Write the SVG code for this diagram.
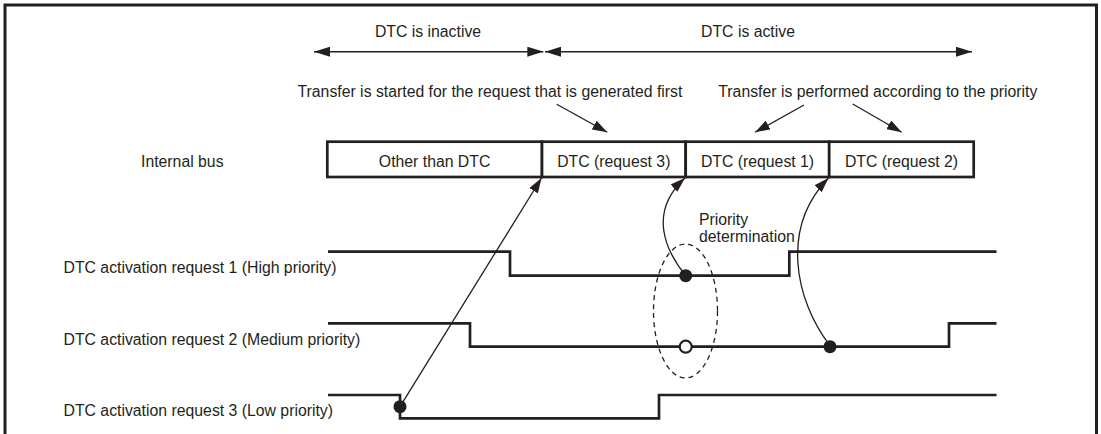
<svg xmlns="http://www.w3.org/2000/svg" width="1101" height="434" viewBox="0 0 1101 434">
<defs>
<style>
text{font-family:"Liberation Sans",Arial,sans-serif;font-size:15.8px;fill:#231f20}
.mid{text-anchor:middle}
.box{fill:#fff;stroke:#231f20;stroke-width:2.7}
.sig{fill:none;stroke:#231f20;stroke-width:2.7}
.thin{fill:none;stroke:#231f20;stroke-width:1.3}
.span{fill:none;stroke:#231f20;stroke-width:1.5}
</style>
<marker id="ah" viewBox="0 0 16 10" refX="16" refY="5" markerWidth="16" markerHeight="10" markerUnits="userSpaceOnUse" orient="auto-start-reverse">
<path d="M0,0 L16,5 L0,10 z" fill="#231f20"/>
</marker>
<marker id="ah2" viewBox="0 0 15 10" refX="15" refY="5" markerWidth="15" markerHeight="10" markerUnits="userSpaceOnUse" orient="auto">
<path d="M0,0 L15,5 L0,10 z" fill="#231f20"/>
</marker>
</defs>
<rect x="0" y="0" width="1101" height="434" fill="#fff"/>
<path d="M5,440 V5 H1096.5 V440" fill="none" stroke="#231f20" stroke-width="3"/>

<g id="periods">
<text class="mid" x="428" y="37.3">DTC is inactive</text>
<text class="mid" x="748" y="37.3">DTC is active</text>
<text x="297.5" y="97.3">Transfer is started for the request that is generated first</text>
<text x="718.3" y="97.3">Transfer is performed according to the priority</text>
</g>

<g id="bus">
<text x="141" y="166.5">Internal bus</text>
<rect class="box" x="327.3" y="141.7" width="214.7" height="35.3"/>
<text class="mid" x="434.6" y="166.5">Other than DTC</text>
<rect class="box" x="542" y="141.7" width="143.7" height="35.3"/>
<text class="mid" x="613.8" y="166.5">DTC (request 3)</text>
<rect class="box" x="685.7" y="141.7" width="143.5" height="35.3"/>
<text class="mid" x="757.5" y="166.5">DTC (request 1)</text>
<rect class="box" x="829.2" y="141.7" width="144.5" height="35.3"/>
<text class="mid" x="901.5" y="166.5">DTC (request 2)</text>
</g>

<g id="req1">
<text x="63.5" y="273">DTC activation request 1 (High priority)</text>
<path class="sig" d="M328,251.7 H510 V275.7 H789.3 V251.7 H996.5"/>
</g>
<g id="req2">
<text x="63.5" y="344.5">DTC activation request 2 (Medium priority)</text>
<path class="sig" d="M328,323.3 H470 V346.7 H949 V323.3 H996.5"/>
</g>
<g id="req3">
<text x="63.5" y="415.5">DTC activation request 3 (Low priority)</text>
<path class="sig" d="M328,395 H400 V418.3 H659 V395 H996.5"/>
</g>

<g id="priority">
<ellipse cx="685.5" cy="311" rx="32" ry="67" fill="none" stroke="#231f20" stroke-width="1.3" stroke-dasharray="5,4"/>
<text x="699" y="225">Priority</text>
<text x="699" y="242">determination</text>
</g>

<g id="connectors">
<line class="span" x1="314" y1="51.7" x2="543.3" y2="51.7" marker-start="url(#ah)" marker-end="url(#ah)"/>
<line class="span" x1="545" y1="51.7" x2="972" y2="51.7" marker-start="url(#ah)" marker-end="url(#ah)"/>
<line class="thin" x1="556.7" y1="104.3" x2="607.3" y2="132.3" marker-end="url(#ah2)"/>
<line class="thin" x1="804" y1="105" x2="755" y2="132.3" marker-end="url(#ah2)"/>
<line class="thin" x1="852.7" y1="104" x2="901.7" y2="132.3" marker-end="url(#ah2)"/>
<line class="thin" x1="400" y1="406.7" x2="541.5" y2="178" marker-end="url(#ah2)"/>
<path class="thin" d="M685.7,275.7 C665,250 648,212 685,178" marker-end="url(#ah2)"/>
<path class="thin" d="M830,345.7 C795,300 780,228 828.5,178" marker-end="url(#ah2)"/>
</g>

<g id="dots">
<circle cx="400" cy="406.7" r="6.5" fill="#231f20"/>
<circle cx="685.7" cy="275.7" r="6.5" fill="#231f20"/>
<circle cx="685.7" cy="346.7" r="6" fill="#fff" stroke="#231f20" stroke-width="2.2"/>
<circle cx="830" cy="346.7" r="6.5" fill="#231f20"/>
</g>
</svg>
